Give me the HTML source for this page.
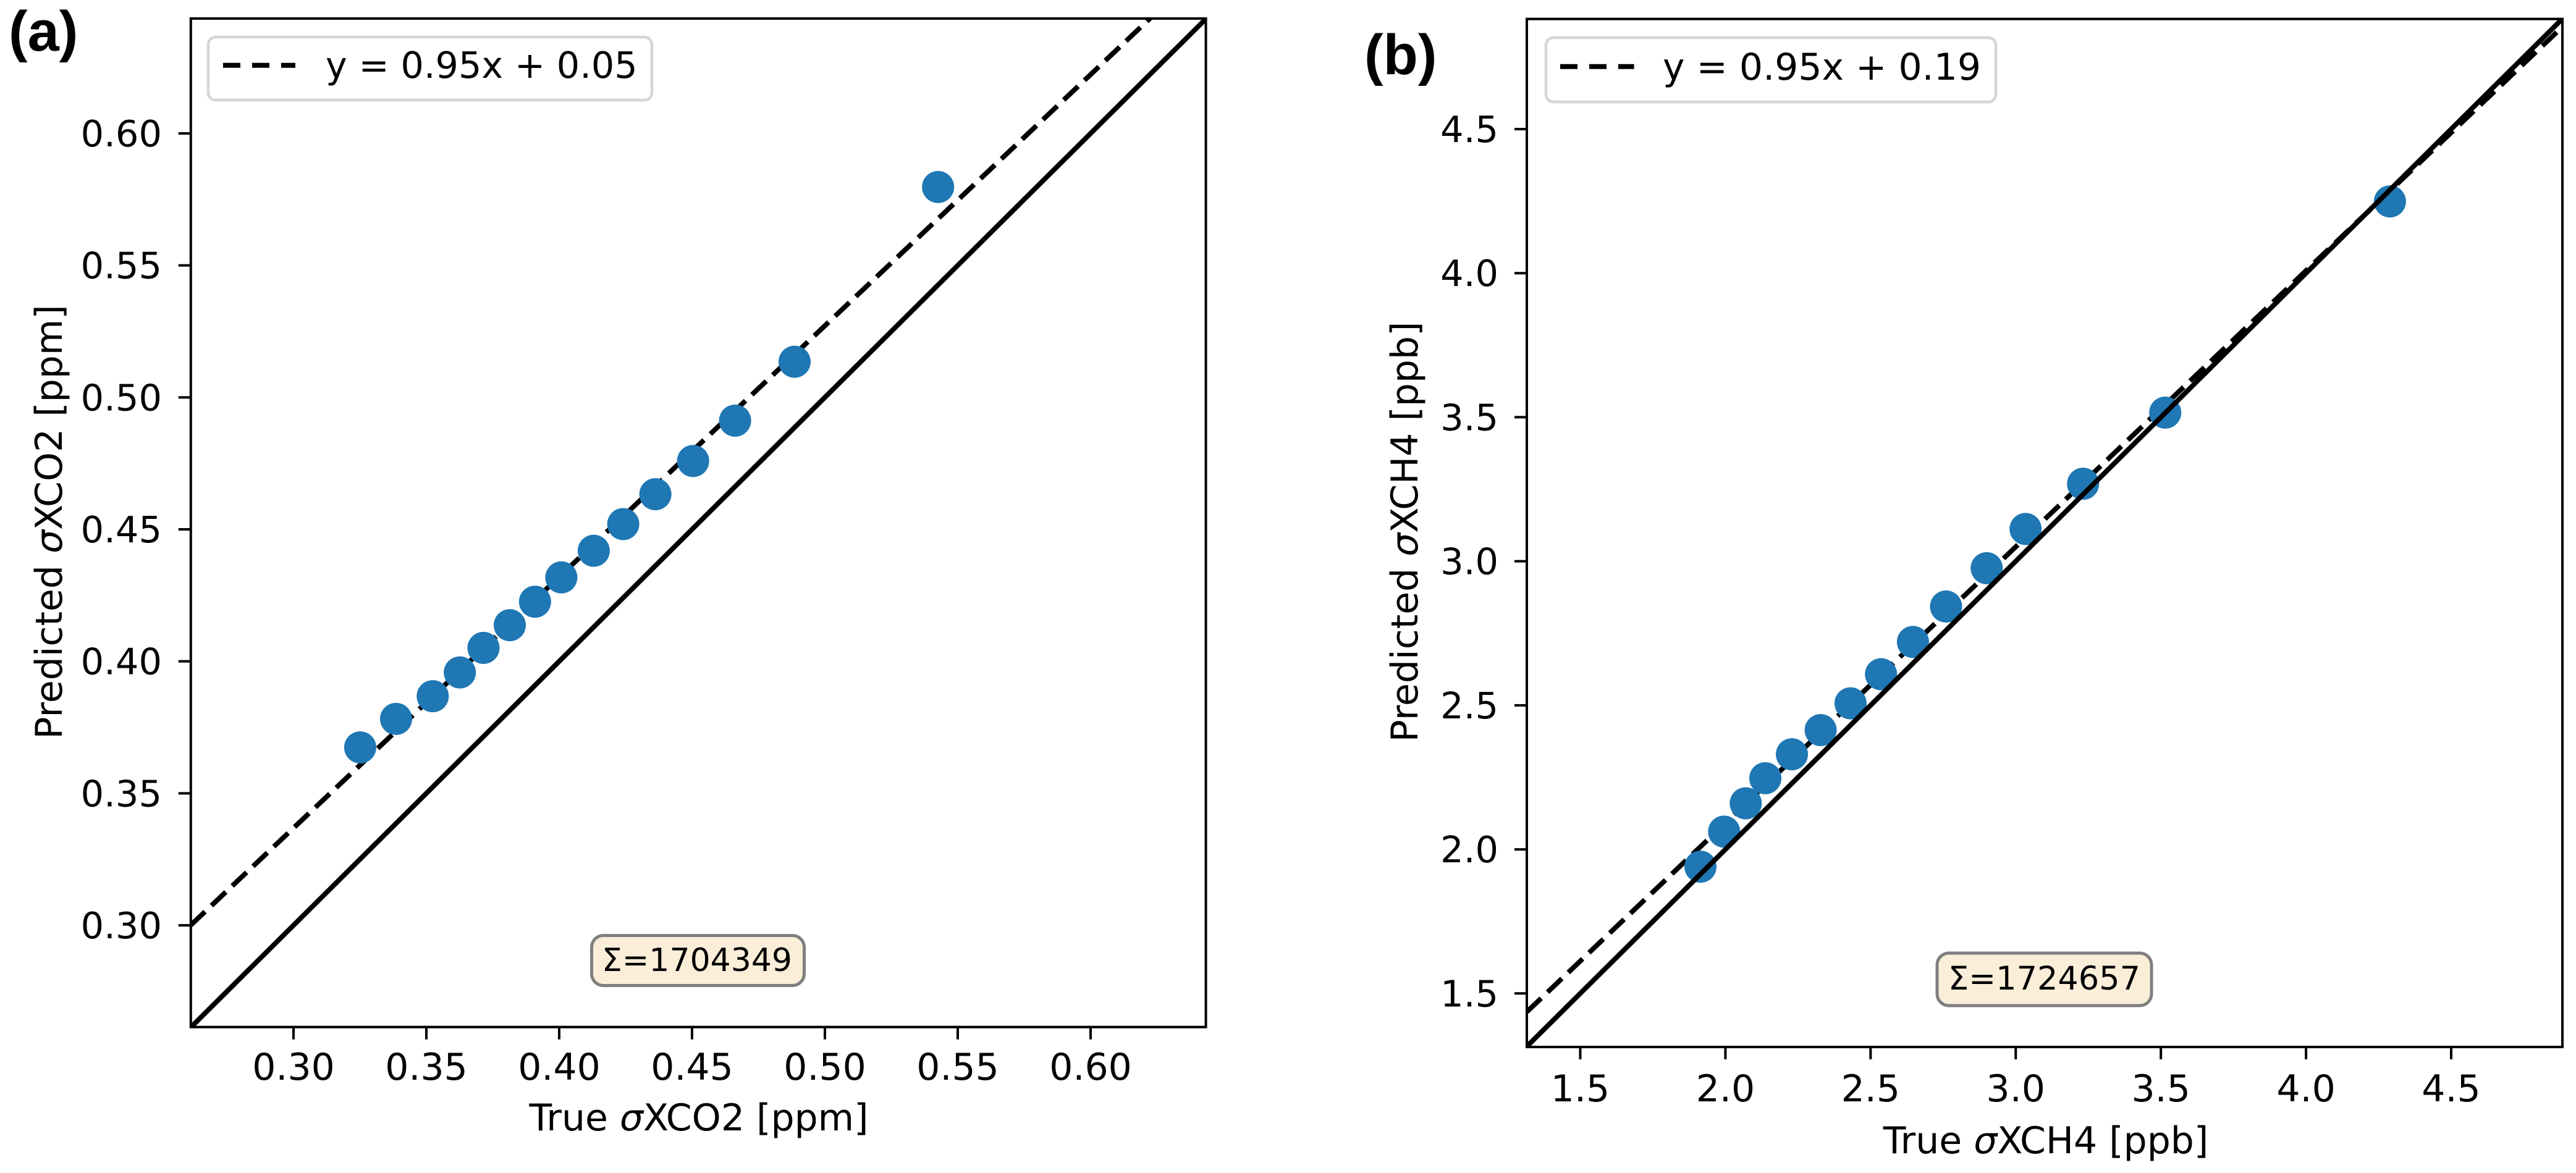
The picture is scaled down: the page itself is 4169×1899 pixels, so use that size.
<!DOCTYPE html>
<html lang="en">
<head>
<meta charset="utf-8">
<title>True vs predicted sigma XCO2 and XCH4</title>
<style>
html,body{margin:0;padding:0;background:#fff;width:4169px;height:1899px;overflow:hidden}
svg{display:block}
text{font-family:"DejaVu Sans","Liberation Sans",sans-serif;fill:#000}
.panel-tag{font-family:"Liberation Sans",Arial,sans-serif;font-weight:700;font-size:92px}
</style>
</head>
<body>
<svg id="figure" xmlns="http://www.w3.org/2000/svg" width="4169" height="1899" viewBox="0 0 4169 1899"></svg>
<script>
// Panel (a) data: sigma XCO2
const trueCO2 = [0.3251,0.3386,0.3524,0.3626,0.3715,0.3814,0.3909,0.4008,0.4130,0.4241,0.4362,0.4504,0.4662,0.4886,0.5426];
const predCO2 = [0.3674,0.3782,0.3868,0.3958,0.4051,0.4137,0.4226,0.4318,0.4419,0.4520,0.4633,0.4759,0.4912,0.5135,0.5797];
const ticksCO2 = [0.30,0.35,0.40,0.45,0.50,0.55,0.60];
const tickLabelsCO2 = ["0.30","0.35","0.40","0.45","0.50","0.55","0.60"];
const limitsCO2 = [0.2613,0.6434];
const fitCO2 = [0.9515,0.0514];

// Panel (b) data: sigma XCH4
const trueCH4 = [1.914,1.9955,2.070,2.1375,2.229,2.328,2.431,2.536,2.646,2.760,2.900,3.034,3.232,3.515,4.289];
const predCH4 = [1.940,2.0615,2.160,2.247,2.330,2.414,2.507,2.608,2.720,2.843,2.976,3.112,3.269,3.516,4.249];
const ticksCH4 = [1.5,2.0,2.5,3.0,3.5,4.0,4.5];
const tickLabelsCH4 = ["1.5","2.0","2.5","3.0","3.5","4.0","4.5"];
const limitsCH4 = [1.316,4.883];
const fitCH4 = [0.9585,0.1746];

const SVG_NS = "http://www.w3.org/2000/svg";
const root = document.getElementById("figure");

function el(tag, attrs, parent) {
  const node = document.createElementNS(SVG_NS, tag);
  for (const k in attrs) node.setAttribute(k, attrs[k]);
  parent.appendChild(node);
  return node;
}
function linearScale(domainLo, domainHi, pxLo, pxHi) {
  return function (v) { return pxLo + (v - domainLo) / (domainHi - domainLo) * (pxHi - pxLo); };
}

function drawPanel(p) {
  const g = el("g", {}, root);
  
  

  const sx = linearScale(p.tickRefX[0], p.tickRefX[1], p.tickRefX[2], p.tickRefX[3]);
  const sy = linearScale(p.tickRefY[0], p.tickRefY[1], p.tickRefY[2], p.tickRefY[3]);

  const clipId = "clip-" + p.id;
  const clip = el("clipPath", {id: clipId}, g);
  el("rect", {x: p.left, y: p.top, width: p.right - p.left, height: p.bottom - p.top}, clip);

  const plot = el("g", {"clip-path": "url(#" + clipId + ")"}, g);
  
  

  // dashed fit line
  const lo = p.limits[0], hi = p.limits[1];
  const fit = el("line", {
    x1: sx(lo), y1: sy(p.fit[0] * lo + p.fit[1]),
    x2: sx(hi), y2: sy(p.fit[0] * hi + p.fit[1]),
    stroke: "#000", "stroke-width": 8, "stroke-dasharray": "32 14.3"
  }, plot);
  
  

  // scatter points
  p.xs.forEach(function (xv, i) {
    const dot = el("circle", {cx: sx(xv), cy: sy(p.ys[i]), r: 26, fill: "#1f77b4"}, plot);
    
    
  });

  // one-to-one line
  const ident = el("line", {
    x1: sx(lo), y1: sy(lo), x2: sx(hi), y2: sy(hi),
    stroke: "#000", "stroke-width": 8
  }, plot);
  
  

  // ticks
  p.ticks.forEach(function (t, i) {
    const xm = el("line", {x1: sx(t), x2: sx(t), y1: p.bottom, y2: p.bottom + 20, stroke: "#000", "stroke-width": 4}, g);
    
    
    const xl = el("text", {x: sx(t), y: p.xTickBase, "font-size": 60, "text-anchor": "middle"}, g);
    
    
    xl.textContent = p.tickLabels[i];

    const ym = el("line", {x1: p.left - 20, x2: p.left, y1: sy(t), y2: sy(t), stroke: "#000", "stroke-width": 4}, g);
    
    
    const yl = el("text", {x: p.yTickRight, y: sy(t) + 21, "font-size": 59, "text-anchor": "end"}, g);
    
    
    yl.textContent = p.tickLabels[i];
  });

  // axes frame
  const frame = el("rect", {x: p.left, y: p.top, width: p.right - p.left, height: p.bottom - p.top, fill: "none", stroke: "#000", "stroke-width": 4}, g);
  
  

  // axis titles
  const xt = el("text", {x: p.xTitle[0], y: p.xTitle[1], "font-size": 60, "text-anchor": "middle"}, g);
  
  
  xt.appendChild(document.createTextNode("True "));
  el("tspan", {"font-style": "italic"}, xt).textContent = "σ";
  xt.appendChild(document.createTextNode(p.gasUnit));

  const yt = el("text", {x: p.yTitle[0], y: p.yTitle[1], "font-size": 60, "text-anchor": "middle",
    transform: "rotate(-90 " + p.yTitle[0] + " " + p.yTitle[1] + ")"}, g);
  
  
  yt.appendChild(document.createTextNode("Predicted "));
  el("tspan", {"font-style": "italic"}, yt).textContent = "σ";
  yt.appendChild(document.createTextNode(p.gasUnit));

  // legend
  const lg = el("g", {}, g);
  
  
  const lb = el("rect", {x: p.legend.x, y: p.legend.y, width: p.legend.w, height: p.legend.h, rx: 12, ry: 12,
    fill: "#fff", stroke: "#d6d6d6", "stroke-width": 4.5}, lg);
  
  
  const ls = el("line", {x1: p.legend.sx1, x2: p.legend.sx2, y1: p.legend.sy, y2: p.legend.sy,
    stroke: "#000", "stroke-width": 8, "stroke-dasharray": "28 19"}, lg);
  
  
  const lt = el("text", {x: p.legend.tx, y: p.legend.ty, "font-size": p.legend.size}, lg);
  
  
  lt.textContent = p.legend.label;

  // sample-count annotation
  const ann = el("g", {}, g);
  
  
  const ab = el("rect", {x: p.note.x, y: p.note.y, width: p.note.w, height: p.note.h, rx: 19, ry: 19,
    fill: "#faeed9", stroke: "#7f7f7f", "stroke-width": 5}, ann);
  
  
  const at = el("text", {x: p.note.tx, y: p.note.ty, "font-size": p.note.size}, ann);
  
  
  at.textContent = p.note.label;

  // panel letter
  const tag = el("text", {x: p.tag[0], y: p.tag[1], class: "panel-tag"}, g);
  
  
  tag.textContent = p.tag[2];
}

drawPanel({
  id: "co2", xs: trueCO2, ys: predCO2, ticks: ticksCO2, tickLabels: tickLabelsCO2, limits: limitsCO2, fit: fitCO2,
  left: 308.8, right: 1951.6, top: 30, bottom: 1662.7,
  tickRefX: [0.30, 0.60, 475, 1765], tickRefY: [0.30, 0.60, 1498, 216],
  xTickBase: 1748, yTickRight: 262, gasUnit: "XCO2 [ppm]",
  xTitle: [1131, 1830], yTitle: [100, 845],
  legend: {x: 337, y: 60, w: 718, h: 102, size: 58.8, sx1: 361, sx2: 478, sy: 105.7, tx: 527, ty: 126, label: "y = 0.95x + 0.05"},
  note: {x: 957.5, y: 1514.5, w: 344, h: 81, size: 52, tx: 974, ty: 1572, label: "Σ=1704349"},
  tag: [14, 82, "(a)"]
});

drawPanel({
  id: "ch4", xs: trueCH4, ys: predCH4, ticks: ticksCH4, tickLabels: tickLabelsCH4, limits: limitsCH4, fit: fitCH4,
  left: 2471, right: 4147, top: 30.7, bottom: 1695,
  tickRefX: [1.5, 4.5, 2557.5, 3967], tickRefY: [1.5, 4.5, 1608.3, 209],
  xTickBase: 1783, yTickRight: 2425, gasUnit: "XCH4 [ppb]",
  xTitle: [3311, 1867], yTitle: [2294, 861],
  legend: {x: 2502, y: 61, w: 728, h: 104, size: 60, sx1: 2525, sx2: 2644.6, sy: 107.7, tx: 2691, ty: 129, label: "y = 0.95x + 0.19"},
  note: {x: 3135, y: 1543, w: 347, h: 85, size: 52.5, tx: 3153, ty: 1602, label: "Σ=1724657"},
  tag: [2208, 120, "(b)"]
});
</script>
</body>
</html>
